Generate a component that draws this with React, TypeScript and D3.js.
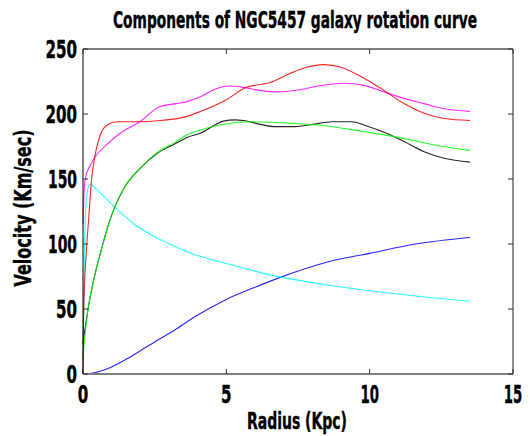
import React from "react";
import * as d3 from "d3";

const redR = [0, 0.02, 0.12, 0.2, 0.3, 0.41, 0.58, 0.81, 1.2, 2.0, 2.7, 3.6, 4.1, 5.0, 5.7, 6.5, 7.2, 7.8, 8.4, 9.0, 9.6, 10.3, 11.2, 11.9, 12.6, 13.5];
const redV = [0, 45, 95, 120, 150, 167, 182.5, 191, 194, 194, 195, 198, 202, 211, 220.5, 224, 231, 236, 238, 236, 230, 221, 208, 200.5, 196.5, 195];

const magentaR = [0, 0.05, 0.12, 0.23, 0.47, 0.81, 1.28, 1.98, 2.67, 3.26, 3.63, 4.07, 4.6, 5.1, 5.6, 6.2, 6.8, 7.5, 8.2, 9.1, 9.8, 10.5, 11.2, 11.9, 12.6, 13.5];
const magentaV = [115, 145, 154, 159.5, 168.5, 176, 185, 194, 205.6, 208, 209.5, 213, 219, 221.5, 220.5, 218, 217, 218.5, 221.5, 223.6, 222, 217, 212, 208, 204, 202];

const greenR = [0, 0.06, 0.17, 0.4, 0.64, 0.87, 1.1, 1.45, 2.03, 2.6, 3.2, 3.63, 4.07, 4.77, 5.9, 7.4, 8.2, 9.35, 11, 12.3, 13.5];
const greenV = [13, 28, 49, 75, 95.6, 113.7, 128, 143.7, 159, 170.5, 178, 184, 187.5, 191.5, 194, 192.7, 191.5, 188, 182, 176, 172];

const blackR = [0, 0.06, 0.17, 0.4, 0.64, 0.87, 1.1, 1.45, 2.03, 2.6, 3.2, 3.63, 4.07, 4.9, 5.3, 5.6, 6.2, 6.7, 7.4, 8.0, 8.7, 9.35, 10.0, 10.5, 11.1, 11.9, 12.6, 13.5];
const blackV = [23, 33, 49, 75, 95.6, 113.7, 128, 143.7, 159, 170, 177, 182, 185, 194.5, 195.5, 195, 192, 190.3, 190.3, 192, 194, 194, 190, 186, 180, 171, 166, 163];

const cyanR = [0, 0.03, 0.08, 0.15, 0.25, 0.4, 0.7, 1.1, 1.8, 2.73, 3.63, 5.0, 6.95, 8.5, 10, 11.6, 13.5];
const cyanV = [0, 60, 120, 140, 146, 143.5, 137, 128.5, 115, 103, 94, 85, 74.3, 68.5, 64, 60, 56];

const blueR = [0, 0.3, 0.87, 1.5, 2.03, 2.6, 3.2, 3.9, 5.0, 6.0, 6.95, 8.5, 10, 11.6, 13.5];
const blueV = [0, 0.5, 4.2, 11.3, 18.3, 26, 33.8, 44, 57.4, 66.7, 74.9, 86, 92.8, 100, 105];

const xTicks = [0, 5, 10, 15];
const yTicks = [0, 50, 100, 150, 200, 250];

const titleText = "Components of NGC5457 galaxy rotation curve";
const xLabelText = "Radius (Kpc)";
const yLabelText = "Velocity (Km/sec)";

const series = [
  { r: blueR, v: blueV, color: "#0000ff" },
  { r: cyanR, v: cyanV, color: "#00ffff" },
  { r: blackR, v: blackV, color: "#000000" },
  { r: greenR, v: greenV, color: "#00ff00" },
  { r: magentaR, v: magentaV, color: "#ff00ff" },
  { r: redR, v: redV, color: "#ff0000" },
];

const FONT = "'Liberation Sans Narrow', 'DejaVu Sans Condensed', 'Arial Narrow', sans-serif";

export default function App() {
  const W = 530, H = 436;
  const left = 83, right = 513, top = 49, bottom = 374;
  const x = d3.scaleLinear().domain([0, 15]).range([left, right]);
  const y = d3.scaleLinear().domain([0, 250]).range([bottom, top]);
  const line = d3
    .line<[number, number]>()
    .x((d) => x(d[0]))
    .y((d) => y(d[1]))
    .curve(d3.curveMonotoneX);

  const digitW = (s: string) => s.split("").reduce((a, c) => a + (c === "1" ? 8 : 10.5), 0);
  const textStyle = {
    fontFamily: FONT,
    fontWeight: "bold" as const,
    stroke: "#000",
    strokeWidth: 0.4,
    fill: "#000",
  };

  return (
    <svg width={W} height={H} style={{ position: "absolute", left: 0, top: 0, background: "#fff" }}>
      <rect x={0} y={0} width={W} height={H} fill="#fff" />
      {series.map((s, i) => (
        <path
          key={i}
          d={line(s.r.map((r, j) => [r, s.v[j]] as [number, number])) || ""}
          fill="none"
          stroke={s.color}
          strokeWidth={1.1}
          strokeOpacity={0.85}
        />
      ))}
      <line x1={left} y1={top} x2={right} y2={top} stroke="#000" strokeWidth={1} />
      <line x1={left} y1={top} x2={left} y2={bottom} stroke="#000" strokeWidth={1} />
      <line x1={right} y1={top} x2={right} y2={bottom} stroke="#222" strokeWidth={1} />
      <line x1={left} y1={bottom} x2={right} y2={bottom} stroke="#808080" strokeWidth={2} />
      {xTicks.map((t) => (
        <g key={"xt" + t}>
          <line x1={x(t)} y1={bottom} x2={x(t)} y2={bottom - 5} stroke="#333" />
          <line x1={x(t)} y1={top} x2={x(t)} y2={top + 5} stroke="#333" />
          <text
            x={x(t)}
            y={403}
            textAnchor="middle"
            fontSize={24}
            textLength={digitW(String(t))}
            lengthAdjust="spacingAndGlyphs"
            style={textStyle}
          >
            {t}
          </text>
        </g>
      ))}
      {yTicks.map((t) => (
        <g key={"yt" + t}>
          <line x1={left} y1={y(t)} x2={left + 5} y2={y(t)} stroke="#333" />
          <line x1={right} y1={y(t)} x2={right - 5} y2={y(t)} stroke="#333" />
          <text
            x={77}
            y={y(t) + 9}
            textAnchor="end"
            fontSize={24}
            textLength={digitW(String(t))}
            lengthAdjust="spacingAndGlyphs"
            style={textStyle}
          >
            {t}
          </text>
        </g>
      ))}
      <text
        x={295}
        y={28}
        textAnchor="middle"
        fontSize={23}
        textLength={364}
        lengthAdjust="spacingAndGlyphs"
        style={textStyle}
      >
        {titleText}
      </text>
      <text
        x={297}
        y={429}
        textAnchor="middle"
        fontSize={23}
        textLength={100}
        lengthAdjust="spacingAndGlyphs"
        style={textStyle}
      >
        {xLabelText}
      </text>
      <text
        transform={`translate(31,208) rotate(-90)`}
        textAnchor="middle"
        fontSize={23}
        textLength={157}
        lengthAdjust="spacingAndGlyphs"
        style={textStyle}
      >
        {yLabelText}
      </text>
    </svg>
  );
}
